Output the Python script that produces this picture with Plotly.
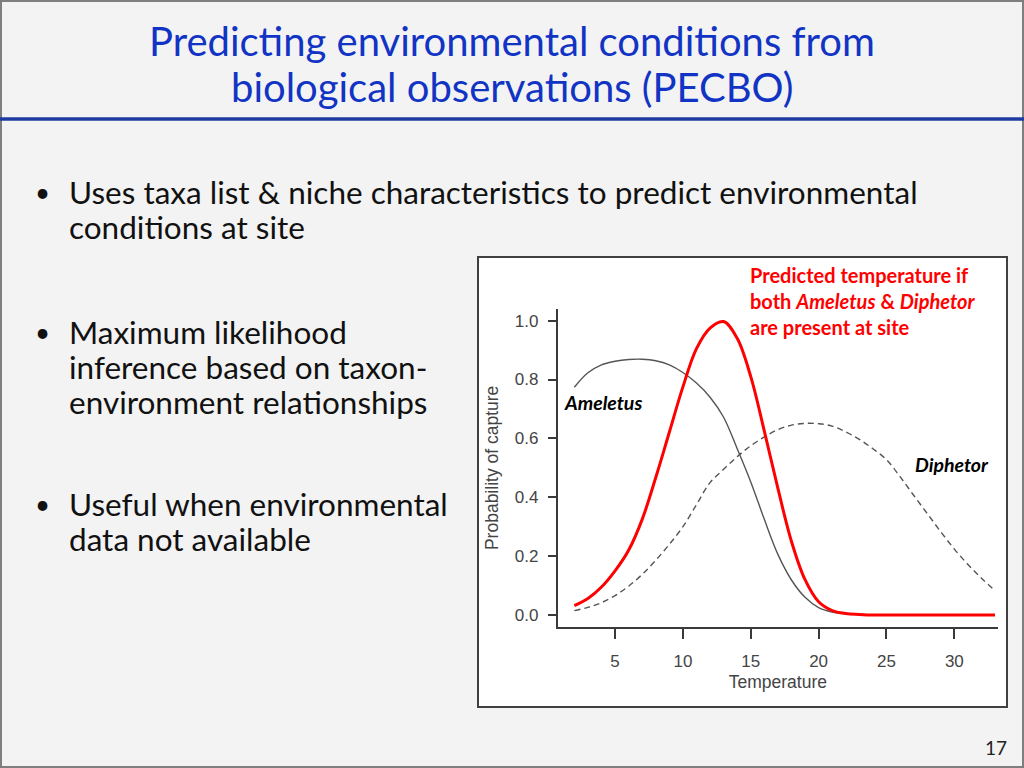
import plotly.graph_objects as go

# ---------------- data ----------------
temperature = [2, 3, 4, 5, 6, 7, 8, 9, 10, 11, 12, 13, 14, 15, 16, 17,
               18, 19, 20, 21, 22, 23, 24, 25, 26, 27, 28, 29, 30, 31, 32, 33]
ameletus = [0.774, 0.823, 0.850, 0.862, 0.868, 0.869, 0.864, 0.850, 0.824, 0.788,
            0.740, 0.672, 0.565, 0.452, 0.325, 0.206, 0.119, 0.060, 0.025, 0.010,
            0.004, 0.002, 0.001, 0, 0, 0, 0, 0, 0, 0, 0, 0]
diphetor = [0.015, 0.026, 0.042, 0.066, 0.098, 0.138, 0.186, 0.240, 0.300, 0.375,
            0.450, 0.495, 0.538, 0.575, 0.605, 0.630, 0.645, 0.651, 0.650, 0.642,
            0.622, 0.597, 0.565, 0.528, 0.470, 0.407, 0.345, 0.283, 0.224, 0.172,
            0.125, 0.083]
combined = [0.032, 0.056, 0.095, 0.150, 0.220, 0.325, 0.467, 0.621, 0.775, 0.905,
            0.975, 0.997, 0.940, 0.810, 0.625, 0.430, 0.250, 0.120, 0.045, 0.015,
            0.005, 0.002, 0, 0, 0, 0, 0, 0, 0, 0, 0, 0]
x_ticks = [5, 10, 15, 20, 25, 30]
y_ticks = [0.0, 0.2, 0.4, 0.6, 0.8, 1.0]

title_lines = ["Predicting environmental conditions from",
               "biological observations (PECBO)"]
title_y = [41, 87]
bullets = [
    ["Uses taxa list &amp; niche characteristics to predict environmental",
     "conditions at site"],
    ["Maximum likelihood", "inference based on taxon-", "environment relationships"],
    ["Useful when environmental", "data not available"],
]
bullet_y = [[192, 227], [332, 367, 402], [504, 539]]
callout_text = ("<b>Predicted temperature if<br>both <i>Ameletus</i> &amp; <i>Diphetor</i>"
                "<br>are present at site</b>")

W, H = 1024, 768


def px(x):
    return x / W


def py(y):
    return 1 - y / H


fig = go.Figure()
fig.add_trace(go.Scatter(x=temperature, y=diphetor, mode="lines",
                         line=dict(color="#555555", width=1.4, dash="6px,4px", shape="spline"),
                         name="Diphetor", hoverinfo="skip"))
fig.add_trace(go.Scatter(x=temperature, y=ameletus, mode="lines",
                         line=dict(color="#555555", width=1.4, shape="spline"),
                         name="Ameletus", hoverinfo="skip"))
fig.add_trace(go.Scatter(x=temperature, y=combined, mode="lines",
                         line=dict(color="#ff0000", width=3, shape="spline"),
                         name="Both", hoverinfo="skip"))

axis_font = dict(family="Liberation Sans, Arial", size=17, color="#444444")
axis_title_font = dict(family="Liberation Sans, Arial", size=17.5, color="#444444")

fig.update_layout(
    width=W, height=H, margin=dict(l=0, r=0, t=0, b=0),
    paper_bgcolor="#f3f3f3", plot_bgcolor="rgba(0,0,0,0)",
    showlegend=False,
    xaxis=dict(domain=[px(557.5), px(998.3)], range=[0.76, 33.24],
               showgrid=False, zeroline=False, showline=True, linecolor="#3a3a3a",
               linewidth=1.5, ticks="outside", ticklen=10, tickwidth=1.5,
               tickcolor="#3a3a3a", tickvals=x_ticks, tickfont=axis_font,
               ticklabelstandoff=8,
               title=dict(text="Temperature", font=axis_title_font, standoff=6)),
    yaxis=dict(domain=[py(626.8), py(308.9)], range=[-0.04, 1.04],
               showgrid=False, zeroline=False, showline=True, linecolor="#3a3a3a",
               linewidth=1.5, ticks="outside", ticklen=8, tickwidth=1.5,
               tickcolor="#3a3a3a", tickvals=y_ticks, tickformat=".1f",
               tickfont=axis_font, ticklabelstandoff=6,
               title=dict(text="Probability of capture", font=axis_title_font, standoff=12)),
)

shapes = []
# slide border
shapes.append(dict(type="rect", xref="paper", yref="paper", x0=px(1), x1=px(1023), y0=py(767), y1=py(1),
                   line=dict(color="#7f7f7f", width=2), layer="below"))
# title separator
shapes.append(dict(type="line", xref="paper", yref="paper", x0=0, x1=1, y0=py(119), y1=py(119),
                   line=dict(color="#1c3ca4", width=3.5), layer="below"))
# chart box
shapes.append(dict(type="rect", xref="paper", yref="paper", x0=px(478), x1=px(1007), y0=py(707), y1=py(257),
                   fillcolor="white", line=dict(color="#404040", width=2), layer="below"))
fig.update_layout(shapes=shapes)

ann = []
title_font = dict(family="Lato", size=40, color="#1234c4")
for t, y in zip(title_lines, title_y):
    ann.append(dict(text=t, xref="paper", yref="paper", x=0.5, y=py(y),
                    xanchor="center", yanchor="middle", showarrow=False, font=title_font))

body_font = dict(family="Lato", size=31.5, color="#111111")
dot_font = dict(family="Lato", size=26, color="#111111")
for lines, ys in zip(bullets, bullet_y):
    ann.append(dict(text="•", xref="paper", yref="paper", x=px(42), y=py(ys[0]),
                    xanchor="center", yanchor="middle", showarrow=False, font=dot_font))
    for t, y in zip(lines, ys):
        ann.append(dict(text=t, xref="paper", yref="paper", x=px(67), y=py(y),
                        xanchor="left", yanchor="middle", showarrow=False, font=body_font))

ann.append(dict(text=callout_text, xref="paper", yref="paper", x=px(748), y=py(301),
                xanchor="left", yanchor="middle", align="left", showarrow=False,
                font=dict(family="Lato", size=20, color="#ff0000")))

lab_font = dict(family="Lato", size=19.5, color="#000000")
ann.append(dict(text="<b><i>Ameletus</i></b>", xref="paper", yref="paper", x=px(603), y=py(402),
                xanchor="center", yanchor="middle", showarrow=False, font=lab_font))
ann.append(dict(text="<b><i>Diphetor</i></b>", xref="paper", yref="paper", x=px(952), y=py(464),
                xanchor="center", yanchor="middle", showarrow=False, font=lab_font))

ann.append(dict(text="17", xref="paper", yref="paper", x=px(996), y=py(747),
                xanchor="center", yanchor="middle", showarrow=False,
                font=dict(family="Lato", size=19, color="#222222")))
fig.update_layout(annotations=ann)

fig.write_html("out.html", config={"displayModeBar": False},
               post_script="document.body.style.margin='0px';document.body.style.overflow='hidden';")
